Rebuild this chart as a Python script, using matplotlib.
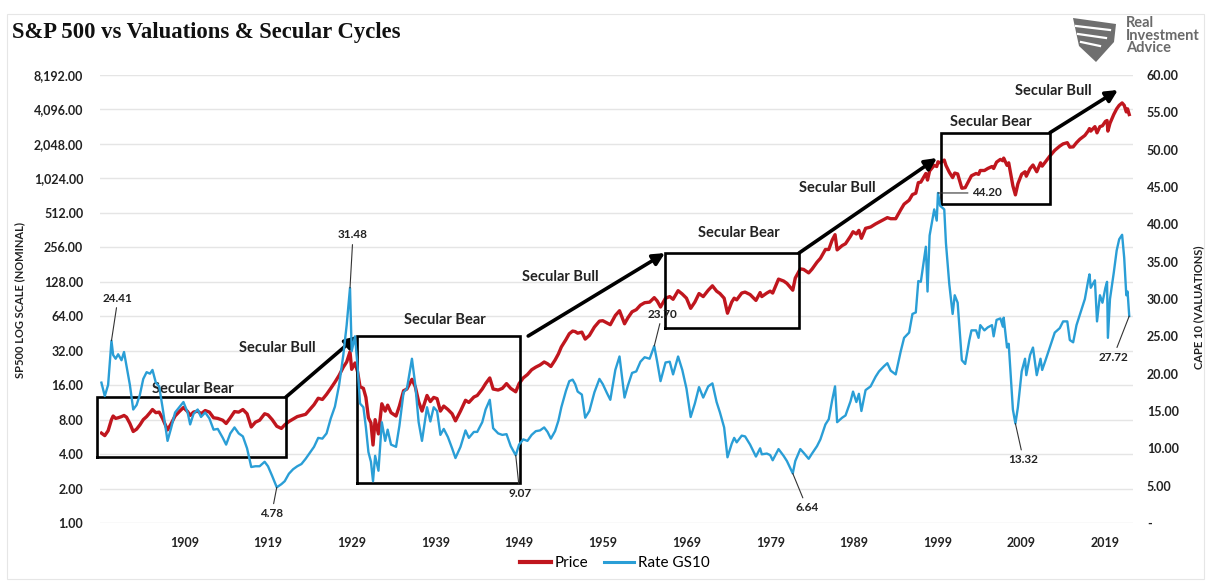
import matplotlib
matplotlib.use("Agg")
import matplotlib.pyplot as plt
from matplotlib.lines import Line2D
from matplotlib.patches import Rectangle, Polygon
import numpy as np

# ---------------- data ----------------
years = [1900.0, 1900.4, 1900.8, 1901.2, 1901.4, 1901.7, 1902.0, 1902.4, 1902.7, 1903.0,
         1903.4, 1903.8, 1904.2, 1904.6, 1905.0, 1905.4, 1905.8, 1906.1, 1906.5, 1906.9,
         1907.3, 1907.9, 1908.3, 1908.8, 1909.3, 1909.8, 1910.3, 1910.6, 1911.0, 1911.5,
         1911.9, 1912.4, 1912.9, 1913.4, 1913.9, 1914.5, 1914.9, 1915.4, 1915.9, 1916.4,
         1916.9, 1917.4, 1917.9, 1918.4, 1918.9, 1919.5, 1919.9, 1920.4, 1920.95, 1921.5,
         1921.9, 1922.4, 1922.9, 1923.4, 1923.9, 1924.4, 1924.9, 1925.4, 1925.9, 1926.4,
         1926.9, 1927.4, 1927.9, 1928.4, 1928.9, 1929.3, 1929.7, 1929.9, 1930.3, 1930.6,
         1930.9, 1931.3, 1931.6, 1931.9, 1932.2, 1932.45, 1932.7, 1933.1, 1933.5, 1933.9,
         1934.2, 1934.6, 1935.2, 1935.6, 1936.1, 1936.5, 1937.1, 1937.5, 1937.9, 1938.3,
         1938.9, 1939.3, 1939.7, 1940.1, 1940.5, 1940.9, 1941.4, 1941.9, 1942.3, 1942.9,
         1943.5, 1943.9, 1944.5, 1944.9, 1945.5, 1945.9, 1946.4, 1946.8, 1947.4, 1947.9,
         1948.4, 1948.9, 1949.5, 1949.9, 1950.4, 1950.9, 1951.4, 1951.9, 1952.4, 1952.9,
         1953.3, 1953.7, 1954.2, 1954.6, 1954.95, 1955.5, 1955.9, 1956.3, 1956.6, 1956.9,
         1957.4, 1957.8, 1958.3, 1958.9, 1959.5, 1959.9, 1960.4, 1960.8, 1961.4, 1961.9,
         1962.5, 1962.9, 1963.4, 1963.9, 1964.4, 1964.9, 1965.5, 1966.05, 1966.4, 1966.8,
         1967.4, 1967.9, 1968.3, 1968.9, 1969.4, 1969.9, 1970.4, 1970.9, 1971.4, 1971.9,
         1972.5, 1973.0, 1973.5, 1973.9, 1974.4, 1974.8, 1975.3, 1975.6, 1975.9, 1976.5,
         1976.9, 1977.5, 1978.2, 1978.7, 1978.9, 1979.5, 1979.9, 1980.2, 1980.9, 1981.5,
         1981.9, 1982.6, 1982.9, 1983.5, 1983.9, 1984.5, 1984.9, 1985.5, 1985.9, 1986.5,
         1986.9, 1987.3, 1987.65, 1987.9, 1988.5, 1988.9, 1989.5, 1989.8, 1990.2, 1990.5,
         1990.8, 1991.3, 1991.9, 1992.5, 1992.9, 1993.5, 1993.9, 1994.3, 1994.9, 1995.5,
         1995.9, 1996.5, 1996.9, 1997.3, 1997.6, 1997.9, 1998.5, 1998.7, 1998.95, 1999.5,
         1999.8, 1999.95, 2000.2, 2000.7, 2000.9, 2001.3, 2001.7, 2001.95, 2002.3, 2002.8,
         2003.2, 2003.7, 2003.95, 2004.5, 2004.8, 2005.0, 2005.5, 2005.9, 2006.4, 2006.6,
         2006.95, 2007.4, 2007.7, 2007.8, 2008.2, 2008.4, 2008.9, 2009.2, 2009.5, 2009.95,
         2010.35, 2010.5, 2010.95, 2011.3, 2011.75, 2012.2, 2012.4, 2012.8, 2013.3, 2013.9,
         2014.5, 2014.9, 2015.4, 2015.7, 2016.1, 2016.5, 2016.9, 2017.5, 2017.9, 2018.05,
         2018.2, 2018.7, 2018.95, 2019.3, 2019.6, 2019.95, 2020.15, 2020.25, 2020.5, 2020.95,
         2021.3, 2021.6, 2021.95, 2022.2, 2022.45, 2022.6, 2022.8]

price = [6.1, 5.8, 6.4, 8.0, 8.6, 8.2, 8.3, 8.5, 8.7, 8.4,
         7.4, 6.3, 6.6, 7.2, 8.0, 8.5, 9.2, 9.8, 9.2, 9.3,
         8.2, 6.5, 7.3, 8.6, 9.4, 10.2, 9.4, 8.7, 9.3, 9.5,
         9.0, 9.6, 9.3, 8.3, 8.2, 7.9, 7.4, 8.3, 9.4, 9.3,
         9.8, 9.0, 6.9, 7.6, 7.9, 9.0, 8.8, 8.0, 7.0, 6.7,
         7.2, 7.7, 8.1, 8.5, 8.7, 8.9, 9.8, 10.8, 12.3, 12.0,
         13.3, 15.0, 17.0, 19.5, 23.0, 25.5, 31.3, 22.0, 25.0, 21.0,
         15.5, 15.0, 12.5, 8.3, 7.5, 4.8, 8.0, 6.0, 11.0, 9.5,
         10.7, 9.2, 8.6, 10.5, 14.3, 14.8, 18.0, 15.5, 11.5, 9.5,
         13.0, 11.5, 12.5, 12.2, 9.5, 10.5, 9.8, 9.0, 7.8, 9.5,
         11.8, 11.3, 12.6, 13.0, 14.8, 16.5, 18.5, 14.8, 14.5, 15.0,
         16.5, 15.0, 14.0, 16.5, 18.5, 19.8, 21.8, 23.0, 24.0, 25.5,
         24.6, 23.3, 26.5, 30.0, 34.5, 40.0, 45.0, 47.5, 47.0, 45.5,
         46.5, 40.4, 43.5, 51.5, 58.0, 58.5, 56.0, 54.0, 65.0, 71.5,
         55.0, 62.0, 70.0, 73.0, 80.0, 84.0, 85.0, 93.0, 87.0, 77.0,
         92.0, 95.0, 90.0, 107.0, 100.0, 92.0, 75.0, 85.0, 101.0, 95.0,
         108.0, 118.0, 106.0, 101.0, 92.0, 68.0, 85.0, 92.0, 89.0, 102.0,
         104.0, 99.0, 88.0, 103.0, 95.0, 102.0, 106.0, 102.0, 135.0, 130.0,
         124.0, 108.0, 138.0, 166.0, 164.0, 153.0, 165.0, 190.0, 205.0, 245.0,
         245.0, 295.0, 330.0, 243.0, 265.0, 275.0, 320.0, 350.0, 335.0, 360.0,
         307.0, 375.0, 385.0, 410.0, 425.0, 448.0, 465.0, 455.0, 455.0, 545.0,
         610.0, 660.0, 740.0, 760.0, 940.0, 950.0, 1130.0, 990.0, 1190.0, 1330.0,
         1300.0, 1430.0, 1400.0, 1480.0, 1330.0, 1160.0, 1040.0, 1140.0, 1120.0, 840.0,
         850.0, 1000.0, 1080.0, 1130.0, 1110.0, 1200.0, 1200.0, 1250.0, 1300.0, 1250.0,
         1420.0, 1500.0, 1460.0, 1540.0, 1330.0, 1400.0, 880.0, 735.0, 920.0, 1115.0,
         1170.0, 1070.0, 1250.0, 1340.0, 1170.0, 1400.0, 1310.0, 1430.0, 1600.0, 1800.0,
         1960.0, 2050.0, 2100.0, 1920.0, 1930.0, 2100.0, 2250.0, 2430.0, 2660.0, 2790.0,
         2650.0, 2900.0, 2560.0, 2900.0, 2950.0, 3220.0, 3280.0, 2650.0, 3100.0, 3700.0,
         4150.0, 4450.0, 4670.0, 4450.0, 3900.0, 4150.0, 3700.0]

cape = [18.8, 17.0, 18.5, 24.41, 22.5, 22.0, 22.6, 21.8, 22.9, 21.0,
        18.5, 15.2, 15.8, 17.2, 19.3, 20.2, 20.0, 20.5, 18.8, 18.3,
        15.5, 11.0, 12.6, 14.8, 15.5, 16.2, 14.8, 13.2, 14.6, 15.2,
        14.2, 14.8, 14.0, 12.5, 12.6, 11.4, 10.5, 12.0, 12.8, 12.0,
        11.6, 10.0, 7.5, 7.6, 7.6, 8.2, 7.6, 6.3, 4.78, 5.2,
        5.6, 6.6, 7.2, 7.6, 7.9, 8.6, 9.4, 10.2, 11.4, 11.3,
        12.0, 14.0, 15.6, 18.5, 22.5, 26.5, 31.48, 23.0, 25.0, 21.0,
        16.0, 15.5, 12.8, 9.5, 8.2, 5.6, 9.0, 7.0, 13.5, 11.0,
        12.5, 10.5, 10.2, 13.0, 17.5, 18.0, 22.0, 18.5, 13.5, 11.0,
        15.5, 13.6, 15.5, 15.0, 11.8, 12.6, 11.5, 10.0, 8.7, 10.2,
        12.4, 11.4, 12.2, 12.2, 13.5, 15.2, 16.5, 12.7, 12.0, 11.8,
        11.9, 10.3, 9.07, 10.5, 11.2, 11.0, 11.8, 12.3, 12.4, 12.8,
        12.2, 11.3, 12.3, 13.7, 15.5, 17.7, 19.0, 19.2, 18.6, 17.6,
        17.2, 14.1, 15.0, 17.5, 19.3, 18.6, 17.4, 16.5, 20.5, 22.3,
        16.8, 18.4, 20.1, 20.3, 21.6, 22.2, 22.0, 23.70, 21.6, 19.0,
        21.5, 21.6, 19.9, 22.3, 20.5, 18.0, 14.2, 16.0, 18.2, 16.8,
        18.3, 18.7, 16.2, 14.8, 12.8, 8.8, 10.6, 11.4, 10.8, 11.7,
        11.6, 10.5, 8.9, 10.0, 9.2, 9.3, 9.1, 8.4, 9.9, 9.0,
        8.3, 6.64, 8.3, 9.9, 9.4, 8.6, 9.3, 10.3, 11.2, 13.2,
        13.9, 16.4, 18.3, 13.5, 14.1, 14.4, 16.3, 17.6, 16.2, 17.3,
        15.0, 17.8, 18.3, 19.6, 20.3, 21.0, 21.4, 20.4, 19.9, 23.0,
        24.8, 25.5, 28.0, 28.2, 32.4, 32.3, 37.0, 31.0, 38.5, 42.0,
        40.5, 44.20, 42.5, 42.0, 37.5, 32.0, 28.0, 30.5, 29.5, 21.8,
        21.3, 24.5, 25.8, 25.8, 24.8, 26.5, 25.8, 26.2, 26.5, 25.0,
        27.2, 27.4, 26.3, 27.5, 23.5, 24.0, 15.2, 13.32, 15.5, 20.3,
        22.0, 19.8, 22.5, 23.5, 19.8, 22.0, 20.5, 21.8, 23.5, 25.5,
        26.1, 27.0, 27.0, 24.5, 24.2, 26.5, 27.9, 30.0, 32.5, 33.3,
        31.5, 32.5, 27.0, 30.5, 29.5, 31.5, 32.3, 24.8, 30.0, 33.5,
        36.5, 38.0, 38.6, 35.5, 30.5, 31.0, 27.72]

tick_years = [1909, 1919, 1929, 1939, 1949, 1959, 1969, 1979, 1989, 1999, 2009, 2019]
left_ticks = [2 ** i for i in range(14)]          # 1 .. 8192
right_ticks = list(range(0, 65, 5))                # 0 .. 60
callout_years = [1901.2, 1920.95, 1929.7, 1949.5, 1966.05, 1982.6, 1999.95, 2009.2, 2022.8]
cycle_labels = ["Secular Bear", "Secular Bull", "Secular Bear", "Secular Bull",
                "Secular Bear", "Secular Bull", "Secular Bear", "Secular Bull"]

# ---------------- layout / style ----------------
W, H = 1206, 581
RED = "#C0161E"
BLUE = "#2A9ED6"
TXT = "#222222"
FONT = "Lato"
XOFF = 0.9   # label "1909" sits at end of that year on the category axis

plt.rcParams["font.family"] = [FONT, "DejaVu Sans"]

fig = plt.figure(figsize=(W / 100, H / 100), dpi=100)
fig.patch.set_facecolor("white")

def fx(px):
    return px / W

def fy(py):
    return 1 - py / H

ax_l, ax_r, ax_t, ax_b = 100, 1133, 75, 523
ax = fig.add_axes([fx(ax_l), fy(ax_b), (ax_r - ax_l) / W, (ax_b - ax_t) / H])
ax2 = ax.twinx()

ax.set_yscale("log", base=2)
ax.set_ylim(1, 8192)
ax.set_xlim(1899.83, 2023.25)
ax2.set_ylim(0, 60)

ax.plot(years, price, color=RED, lw=2.4, solid_joinstyle="round", zorder=3)
ax2.plot(years, cape, color=BLUE, lw=1.7, solid_joinstyle="round", zorder=3)

# axes cosmetics
ax.set_yticks(left_ticks)
ax.set_yticklabels([f"{v:,.2f}" for v in left_ticks])
ax.yaxis.set_minor_locator(matplotlib.ticker.NullLocator())
ax2.set_yticks(right_ticks)
ax2.set_yticklabels(["-" if v == 0 else f"{v:.2f}" for v in right_ticks])
ax.set_xticks([y + XOFF for y in tick_years])
ax.set_xticklabels([str(y) for y in tick_years])
for a in (ax, ax2):
    for s in a.spines.values():
        s.set_visible(False)
ax.tick_params(axis="y", length=0, pad=12, labelsize=9, labelcolor=TXT)
ax2.tick_params(axis="y", length=0, pad=10, labelsize=9, labelcolor=TXT)
ax.tick_params(axis="x", length=0, pad=10, labelsize=9, labelcolor=TXT)
for lab in ax.get_yticklabels() + ax.get_xticklabels() + ax2.get_yticklabels():
    lab.set_fontweight("bold")
ax.grid(axis="y", color="#E5E5E5", lw=1.0, zorder=0)
ax.set_axisbelow(True)

# ---------------- secular boxes and arrows (left-axis data space) ----------------
boxes = [((1899.47, 3.77), (1922.05, 12.6)),
         ((1930.55, 2.24), (1950.03, 43.0)),
         ((1967.33, 50.8), (1983.34, 229.8)),
         ((2000.27, 608.0), (2013.33, 2568.0))]
for (x0, y0), (x1, y1) in boxes:
    ax.plot([x0, x1, x1, x0, x0], [y0, y0, y1, y1, y0], color="black", lw=1.9,
            clip_on=False, zorder=5, solid_joinstyle="miter")

arrows = [((1922.05, 12.6), (1930.55, 43.0)),
          ((1950.99, 43.0), (1967.33, 228.0)),
          ((1983.34, 228.0), (1999.83, 1543.0)),
          ((2013.33, 2568.0), (2021.45, 6058.0))]
for start, end in arrows:
    ax.annotate("", xy=end, xytext=start,
                arrowprops=dict(arrowstyle="-|>,head_length=0.7,head_width=0.35",
                                lw=2.6, color="black", shrinkA=0, shrinkB=0),
                annotation_clip=False, zorder=6)

cycle_pos = [(1910.96, 14.8), (1920.99, 33.8), (1941.07, 59.3), (1954.81, 141.0),
             (1976.17, 341.0), (1987.88, 844.0), (2006.28, 3185.0), (2013.69, 5940.0)]
for text, (x, y) in zip(cycle_labels, cycle_pos):
    ax.text(x, y, text, ha="center", va="center", fontsize=10.5, fontweight="bold",
            color=TXT, zorder=7)

# ---------------- CAPE call-outs ----------------
callout_offsets_px = [(6.5, -42.7), (-5, 26), (3, -53), (4, 38), (8, -32),
                      (14, 34), (49, 0), (8, 36), (-16, 41)]
for yr, (dx, dy) in zip(callout_years, callout_offsets_px):
    v = cape[years.index(yr)]
    ax2.annotate(f"{v:.2f}", xy=(yr, v), xytext=(dx * 0.72, -dy * 0.72),
                 textcoords="offset points", ha="center", va="center",
                 fontsize=8.5, fontweight="bold", color=TXT,
                 arrowprops=dict(arrowstyle="-", lw=0.8, color="#333333",
                                 shrinkA=1, shrinkB=0),
                 annotation_clip=False, zorder=8)

# ---------------- axis titles ----------------
fig.text(fx(20), fy(300), "SP500 LOG SCALE (NOMINAL)", rotation=90, ha="center",
         va="center", fontsize=8, fontweight="bold", color=TXT)
fig.text(fx(1199), fy(307), "CAPE 10 (VALUATIONS)", rotation=90, ha="center",
         va="center", fontsize=8, fontweight="bold", color=TXT)

# ---------------- legend ----------------
handles = [Line2D([], [], color=RED, lw=3), Line2D([], [], color=BLUE, lw=2.2)]
fig.legend(handles, ["Price", "Rate GS10"], loc="center", ncol=2,
           bbox_to_anchor=(fx(615), fy(563)), frameon=False, fontsize=11,
           handlelength=2.0, handletextpad=0.25, columnspacing=1.0)

# ---------------- title ----------------
title = fig.text(fx(12), fy(38), "S&P 500 vs Valuations & Secular Cycles",
                 ha="left", va="baseline", fontsize=16, fontweight="bold",
                 family="Liberation Serif", color="#111111")
fig.canvas.draw()
bb = title.get_window_extent()
title.set_fontsize(16 * 388 / bb.width)

# ---------------- logo ----------------
shield = Polygon([(fx(1073), fy(18)), (fx(1116), fy(24)), (fx(1114), fy(42)),
                  (fx(1096), fy(62)), (fx(1079), fy(46))], closed=True,
                 transform=fig.transFigure, facecolor="#6f6f6f", edgecolor="none")
fig.patches.append(shield)
for (xa, ya), (xb, yb) in [((1076, 26), (1110, 30)), ((1078, 34), (1106, 38)),
                            ((1081, 42), (1100, 46))]:
    fig.lines.append(Line2D([fx(xa), fx(xb)], [fy(ya), fy(yb)], transform=fig.transFigure,
                            color="white", lw=1.6))
fig.text(fx(1126), fy(16), "Real\nInvestment\nAdvice", ha="left", va="top",
         fontsize=10.5, fontweight="bold", color="#6a6a6a", linespacing=0.88)

# faint frame
fig.patches.append(Rectangle((fx(7), fy(579)), (1204 - 7) / W, (579 - 14) / H,
                             transform=fig.transFigure, fill=False,
                             edgecolor="#E6E6E6", lw=0.8))

fig.savefig("out.png", dpi=100, facecolor="white")
